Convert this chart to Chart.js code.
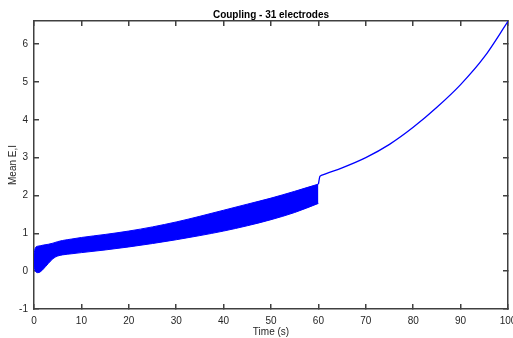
<!DOCTYPE html>
<html lang="en">
<head>
<meta charset="UTF-8" />
<title>Coupling - 31 electrodes</title>
<script src="https://cdn.jsdelivr.net/npm/chart.js"></script>
<style>
  body { margin: 0; background: #fff; }
  #wrap { width: 513px; height: 338px; position: relative; }
</style>
</head>
<body>
<div id="wrap"><canvas id="chart"></canvas></div>
<script>
// oscillating band 0-60 s, read as upper / lower envelope
const bandTime  = [0, 0.3, 0.8, 1.3, 2, 3, 4, 5, 6, 8, 10, 15, 20, 25, 30, 35, 40, 45, 50, 55, 60];
const bandUpper = [0.45, 0.62, 0.66, 0.67, 0.69, 0.71, 0.74, 0.78, 0.81, 0.85, 0.89, 0.97, 1.06, 1.17, 1.30, 1.45, 1.61, 1.77, 1.93, 2.11, 2.30];
const bandLower = [0.10, 0.00, -0.04, -0.02, 0.06, 0.20, 0.33, 0.40, 0.43, 0.46, 0.49, 0.56, 0.64, 0.73, 0.83, 0.94, 1.06, 1.20, 1.36, 1.55, 1.79];
// smooth part after 60 s
const curveTime   = [60, 60.3, 60.6, 65, 70, 75, 80, 85, 90, 95, 100];
const curveValues = [2.30, 2.50, 2.53, 2.73, 3.00, 3.35, 3.80, 4.33, 4.93, 5.66, 6.60];

const pts = (xs, ys) => xs.map((x, i) => ({ x: x, y: ys[i] }));
const axisColor = "#262626";
const boxColor = "#404040";
const font = { family: "'Liberation Sans', Arial, sans-serif", size: 10 };

// box + inward ticks, MATLAB style
const gridIn = { display: true, drawOnChartArea: false, drawTicks: true, tickLength: -5, color: boxColor, lineWidth: 1.5 };
const borderOn = { display: true, color: boxColor, width: 1.5 };

new Chart(document.getElementById("chart"), {
  type: "line",
  data: {
    datasets: [
      { data: pts(bandTime, bandLower), borderColor: "#0000ff", borderWidth: 1, pointRadius: 0,
        fill: false, cubicInterpolationMode: "monotone" },
      { data: pts(bandTime, bandUpper), borderColor: "#0000ff", borderWidth: 1, pointRadius: 0,
        backgroundColor: "#0000ff", fill: "-1", cubicInterpolationMode: "monotone" },
      { data: pts(curveTime, curveValues), borderColor: "#0000ff", borderWidth: 1.3, pointRadius: 0,
        fill: false, cubicInterpolationMode: "monotone" }
    ]
  },
  options: {
    responsive: true,
    maintainAspectRatio: false,
    animation: false,
    layout: { padding: { top: 0, right: 5, bottom: 0, left: 0 } },
    plugins: {
      legend: { display: false },
      tooltip: { enabled: false },
      title: {
        display: true,
        fullSize: false,
        text: "Coupling - 31 electrodes",
        color: "#000",
        font: { family: font.family, size: 10, weight: "bold" },
        padding: { top: 9, bottom: 0 }
      }
    },
    scales: {
      x: {
        type: "linear", min: 0, max: 100, position: "bottom",
        grid: gridIn,
        border: borderOn,
        ticks: { stepSize: 10, color: axisColor, font: font, padding: 11, maxRotation: 0 },
        title: { display: true, text: "Time (s)", color: axisColor, font: font, padding: { top: 0, bottom: 0 } },
        afterFit(s) { s.height = 29; s.paddingLeft = 0; s.paddingRight = 0; }
      },
      x2: {
        type: "linear", min: 0, max: 100, position: "top",
        grid: gridIn,
        border: borderOn,
        ticks: { stepSize: 10, display: false },
        afterFit(s) { s.height = 0; s.paddingLeft = 0; s.paddingRight = 0; }
      },
      y: {
        type: "linear", min: -1, max: 6.61, position: "left",
        grid: gridIn,
        border: borderOn,
        ticks: { stepSize: 1, includeBounds: false, color: axisColor, font: font, padding: 11 },
        title: { display: true, text: "Mean E,I", color: axisColor, font: font, padding: { top: 7, bottom: 0 } },
        afterFit(s) { s.width = 34; s.paddingTop = 0; s.paddingBottom = 0; }
      },
      y2: {
        type: "linear", min: -1, max: 6.61, position: "right",
        grid: gridIn,
        border: borderOn,
        ticks: { stepSize: 1, includeBounds: false, display: false },
        afterFit(s) { s.width = 0; s.paddingTop = 0; s.paddingBottom = 0; }
      }
    }
  }
});
</script>
</body>
</html>
